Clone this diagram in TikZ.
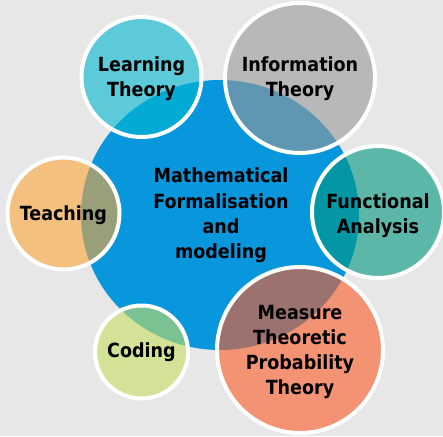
\documentclass[tikz,border=0pt]{standalone}
\usepackage{fontspec}
\setmainfont{DejaVu Sans}
\newfontfamily\lblfont{DejaVu Sans Condensed}
\definecolor{bg}{RGB}{231,231,231}
\definecolor{mainblue}{RGB}{8,150,220}
\definecolor{clearn}{RGB}{0,184,208}
\definecolor{cinfo}{RGB}{153,153,153}
\definecolor{cteach}{RGB}{251,166,56}
\definecolor{cfunc}{RGB}{1,151,129}
\definecolor{ccode}{RGB}{198,224,98}
\definecolor{cmeas}{RGB}{253,91,38}
\tikzset{
  lbl/.style={align=center,text=black,font=\lblfont\bfseries\fontsize{19.5}{25.3}\selectfont},
  sat/.style={circle,inner sep=0pt,fill=#1,fill opacity=0.6,
              draw=white,line width=4pt},
  satlbl/.style 2 args={label={[lbl,yshift=#1]center:{#2}}}}
\begin{document}
\begin{tikzpicture}[x=1pt,y=1pt]
\useasboundingbox (0,0) rectangle (443,-436);
\clip (0,0) rectangle (443,-436);
\fill[bg] (0,0) rectangle (443,-436);
\fill[mainblue] (220,-215) ellipse [x radius=139, y radius=135];
\node[lbl] (main) at (221,-215.5) {Mathematical\\Formalisation\\and\\modeling};
\node[sat=clearn, minimum size=120, satlbl={-2pt}{Learning\\Theory}] (learn) at (141.5,-77) {};
\node[sat=cinfo, minimum size=150, satlbl={-1pt}{Information\\Theory}] (info) at (300,-78) {};
\node[sat=cteach, minimum size=112, satlbl={-2pt}{Teaching}] (teach) at (63.5,-213.5) {};
\node[sat=cfunc, minimum size=132, satlbl={-4pt}{Functional\\Analysis}] (func) at (378,-212) {};
\node[sat=ccode, minimum size=93, satlbl={0pt}{Coding}] (code) at (141.5,-352) {};
\node[sat=cmeas, minimum size=166, satlbl={-2pt}{Measure\\Theoretic\\Probability\\Theory}] (meas) at (300,-350) {};
\end{tikzpicture}
\end{document}
